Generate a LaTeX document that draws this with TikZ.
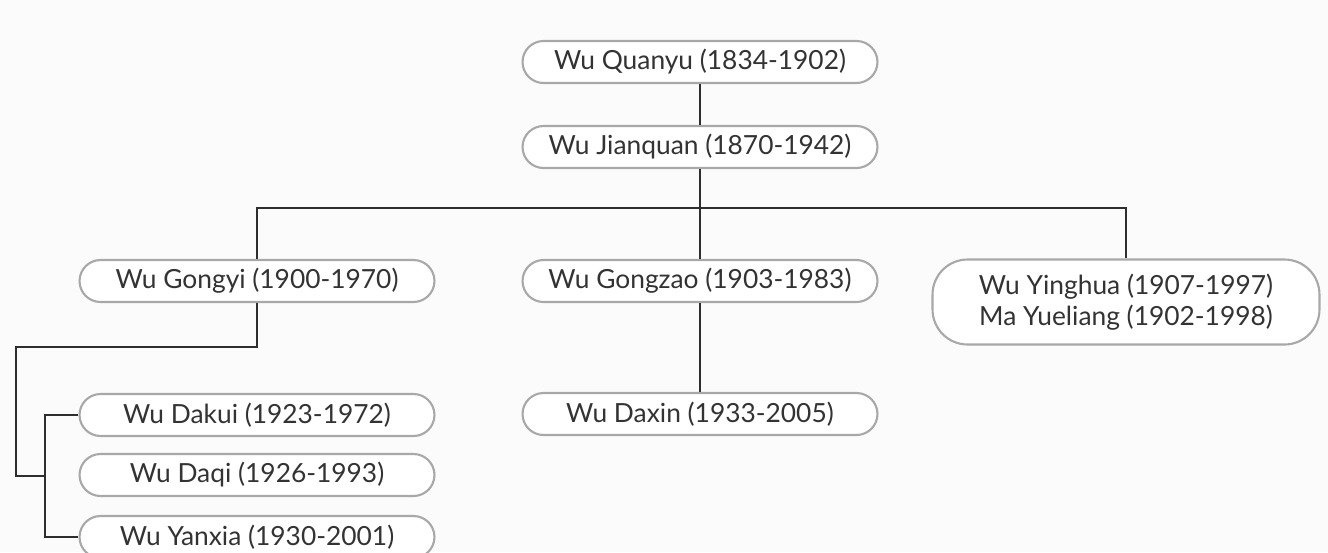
\documentclass[tikz,border=0pt]{standalone}
\usepackage{fontspec}
\setmainfont{Lato}
\usetikzlibrary{positioning}

\definecolor{boxline}{HTML}{A8A8A8}
\definecolor{linkline}{HTML}{2E2E2E}
\definecolor{textgray}{HTML}{333333}
\definecolor{paper}{HTML}{FBFBFB}

\tikzset{
  person/.style={draw=boxline, line width=1.2pt, fill=white, rounded corners=0.42cm,
    minimum width=7.1cm, minimum height=0.84cm, inner sep=0pt,
    font=\fontsize{15}{18}\selectfont, text=textgray, align=center},
  couple/.style={person, minimum width=7.74cm, minimum height=1.7cm, rounded corners=0.7cm},
  link/.style={draw=linkline, line width=1.6pt}
}

\begin{document}
\begin{tikzpicture}[x=0.02cm, y=-0.02cm]
% Set the page size
\useasboundingbox (0,0) rectangle (1328,552);
\fill[paper] (0,0) rectangle (1328,552);

% First two generations
\node[person] (quanyu) at (700,62) {Wu Quanyu (1834-1902)};
\node[person] (jianquan) at (700,147) {Wu Jianquan (1870-1942)};

% Third generation
\node[person] (gongyi) at (257,281) {Wu Gongyi (1900-1970)};
\node[person] (gongzao) at (700,281) {Wu Gongzao (1903-1983)};
\node[couple] (yinghua) at (1126,302) {Wu Yinghua (1907-1997)\\Ma Yueliang (1902-1998)};

% Fourth generation
\node[person] (dakui) at (257,415) {Wu Dakui (1923-1972)};
\node[person] (daqi) at (257,475) {Wu Daqi (1926-1993)};
\node[person] (yanxia) at (257,537) {Wu Yanxia (1930-2001)};
\node[person] (daxin) at (700,414) {Wu Daxin (1933-2005)};

% Turning points of the lines
\coordinate (bus) at (700,208);
\coordinate (gsplit) at (16,347);
\coordinate (dbus) at (45,476);

% Draw the lines
\draw[link] (quanyu) -- (jianquan);
\draw[link] (jianquan) -- (gongzao);
\draw[link] (gongyi.north) |- (bus) -| (yinghua.north);
\draw[link] (gongzao) -- (daxin);
\draw[link] (gongyi.south) |- (gsplit) |- (dbus);
\draw[link] (dakui.west) -| (dbus) |- (yanxia.west);
\end{tikzpicture}
\end{document}
